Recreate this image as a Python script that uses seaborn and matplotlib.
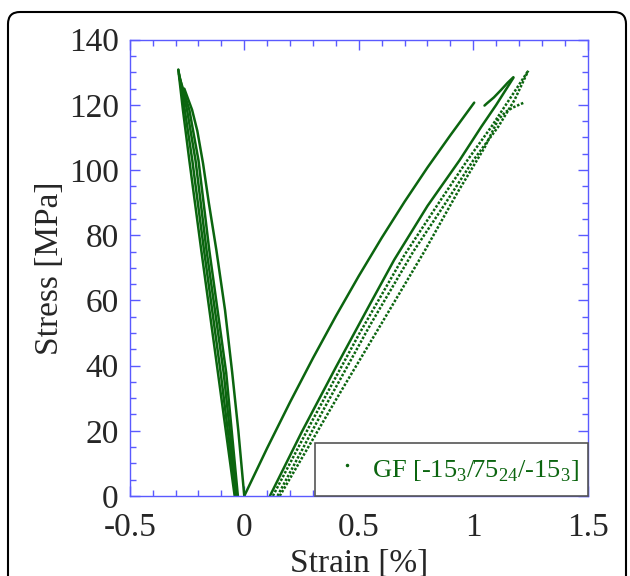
import numpy as np
import pandas as pd
import seaborn as sns
import matplotlib
matplotlib.use("Agg")
import matplotlib.pyplot as plt
from matplotlib.ticker import MultipleLocator, FormatStrFormatter
from matplotlib.lines import Line2D
from matplotlib.patches import FancyBboxPatch

# values: strain [%] / stress [MPa] per curve
# longitudinal side (positive strain)
a_strain = [0.0, 0.1, 0.2, 0.3, 0.4, 0.5, 0.6, 0.7, 0.8, 0.9, 1.004]
a_stress = [0.0, 14.7, 28.8, 42.3, 55.2, 67.5, 79.2, 90.3, 100.8, 110.7, 120.7]
s_strain = [1.049, 1.06, 1.09, 1.12, 1.15, 1.175]
s_stress = [119.8, 120.5, 122.3, 124.5, 126.8, 128.5]
b_strain = [0.112, 0.25, 0.4, 0.55, 0.655, 0.8, 0.94, 1.035, 1.1, 1.175]
b_stress = [0.0, 19.5, 39.5, 59.0, 72.5, 89.0, 103.0, 113.3, 120.0, 128.3]
c_strain = [0.125, 0.3, 0.5, 0.7, 0.85, 0.974, 1.079, 1.17, 1.24]
c_stress = [0.0, 23.5, 49.5, 74.0, 90.0, 103.0, 113.3, 123.0, 130.5]
d_strain = [0.145, 0.35, 0.55, 0.738, 0.88, 1.0, 1.109, 1.18, 1.24]
d_stress = [0.0, 27.0, 52.5, 75.0, 90.0, 103.0, 113.3, 121.5, 130.5]
e_strain = [0.155, 0.4, 0.6, 0.786, 0.93, 1.05, 1.108, 1.14, 1.173, 1.221]
e_stress = [0.0, 29.5, 53.0, 75.0, 93.0, 107.0, 115.4, 117.8, 119.2, 120.7]
# transverse side (negative strain)
l1_strain = [0.0, -0.026, -0.053, -0.084, -0.122, -0.155, -0.18, -0.205, -0.228, -0.262]
l1_stress = [0.0, 20.0, 38.0, 57.0, 75.5, 90.0, 102.0, 112.0, 118.5, 125.0]
l2_strain = [-0.042, -0.115, -0.188, -0.24, -0.268, -0.288]
l2_stress = [0.0, 37.8, 75.5, 103.0, 118.5, 130.8]
l3_strain = [-0.037, -0.103, -0.176, -0.227, -0.26, -0.288]
l3_stress = [0.0, 37.8, 75.5, 103.0, 118.5, 130.8]
l4_strain = [-0.033, -0.09, -0.165, -0.213, -0.25, -0.285]
l4_stress = [0.0, 37.8, 75.5, 103.0, 118.5, 129.5]
l5_strain = [-0.028, -0.079, -0.153, -0.2, -0.24, -0.283]
l5_stress = [0.0, 37.8, 75.5, 103.0, 118.5, 128.5]

solid = {"A": (a_strain, a_stress), "S": (s_strain, s_stress),
         "B": (b_strain, b_stress), "L1": (l1_strain, l1_stress),
         "L2": (l2_strain, l2_stress), "L3": (l3_strain, l3_stress),
         "L4": (l4_strain, l4_stress), "L5": (l5_strain, l5_stress)}
dotted = {"C": (c_strain, c_stress), "D": (d_strain, d_stress),
          "E": (e_strain, e_stress)}

legend_label = "GF [-15$_\\mathregular{3}$/75$_\\mathregular{24}$/-15$_\\mathregular{3}$]"
green = "#0b650f"
blue = "#5a5aff"


def to_frame(curves):
    rows = []
    for name, (xs, ys) in curves.items():
        for i, (x, y) in enumerate(zip(xs, ys)):
            rows.append({"curve": name, "order": i, "strain": x, "stress": y})
    return pd.DataFrame(rows)


sns.set_style("ticks")
plt.rcParams["font.family"] = ["Liberation Serif", "DejaVu Serif"]
plt.rcParams["mathtext.fontset"] = "custom"
plt.rcParams["mathtext.rm"] = "Liberation Serif"

fig = plt.figure(figsize=(6.3, 5.76), dpi=100)
ax = fig.add_axes([0.206, 0.139, 0.727, 0.792])

sns.lineplot(data=to_frame(solid), x="strain", y="stress", units="curve",
             estimator=None, sort=False, color=green, lw=1.8, ax=ax)
sns.lineplot(data=to_frame(dotted), x="strain", y="stress", units="curve",
             estimator=None, sort=False, color=green, lw=1.8,
             linestyle=(0, (1, 0.7)), ax=ax)

ax.set_xlim(-0.5, 1.5)
ax.set_ylim(0, 140)
ax.xaxis.set_major_locator(MultipleLocator(0.5))
ax.xaxis.set_minor_locator(MultipleLocator(0.1))
ax.yaxis.set_major_locator(MultipleLocator(20))
ax.yaxis.set_minor_locator(MultipleLocator(5))
ax.xaxis.set_major_formatter(FormatStrFormatter("%g"))
ax.yaxis.set_major_formatter(FormatStrFormatter("%g"))
ax.tick_params(which="both", direction="in", top=True, right=True,
               color=blue, width=1, labelsize=24)
ax.tick_params(which="major", length=7)
ax.tick_params(which="minor", length=4)
ax.tick_params(axis="x", pad=12)
ax.tick_params(axis="y", pad=8)
for sp in ax.spines.values():
    sp.set_color(blue)
    sp.set_linewidth(1)

ax.set_xlabel("Strain [%]", fontsize=24, labelpad=4)
ax.set_ylabel("Stress [MPa]", fontsize=24, labelpad=3)

handle = Line2D([], [], marker=".", markersize=3, ls="none", color=green)
leg = ax.legend([handle], [legend_label], loc="lower right", fontsize=19,
                frameon=True, fancybox=False, framealpha=1, borderaxespad=0,
                handletextpad=0.08, borderpad=0.35, handlelength=1.73,
                handleheight=1.65)
leg.get_frame().set_edgecolor("#555555")
leg.get_frame().set_linewidth(1.2)
for t in leg.get_texts():
    t.set_color(green)

border = FancyBboxPatch((0.08, -0.3), 6.18, 5.94,
                        boxstyle="round,pad=0,rounding_size=0.12",
                        transform=fig.dpi_scale_trans, fill=False,
                        edgecolor="black", lw=1.5)
fig.add_artist(border)

fig.savefig("out.png", dpi=100)
